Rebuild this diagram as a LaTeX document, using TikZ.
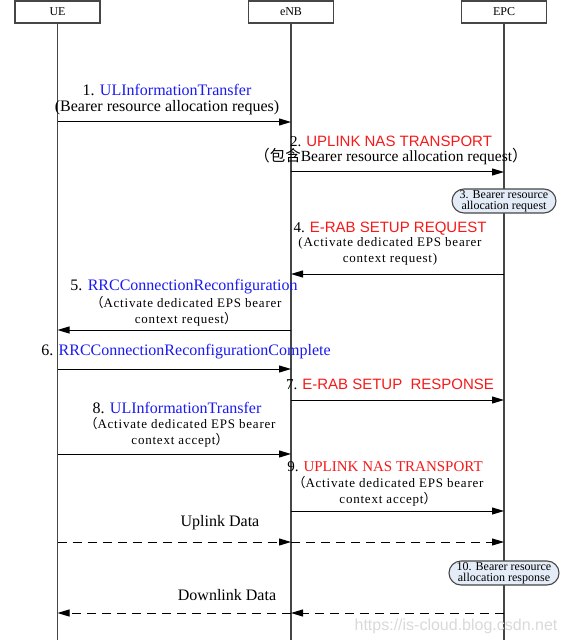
\documentclass[tikz,border=0pt]{standalone}
\usepackage{fontspec}
\setmainfont{Liberation Serif}
\newfontfamily\cjkfont{Noto Sans CJK SC}
\newfontfamily\arialfont{Liberation Sans}
\newfontfamily\spacedfont[LetterSpace=6]{Liberation Serif}
\usetikzlibrary{arrows.meta}
\usetikzlibrary{shapes.misc}
\definecolor{msgblue}{RGB}{25,25,240}
\definecolor{msgred}{RGB}{245,25,25}
\definecolor{notefill}{RGB}{228,236,247}
\definecolor{lifegray}{RGB}{70,70,70}

\begin{document}
\begin{tikzpicture}[x=1pt, y=-1pt,
		entity/.style={
			draw=lifegray,
			line width=1.2pt,
			minimum width=85pt,
			minimum height=22pt,
			inner sep=0pt,
			font=\fontsize{12}{14}\selectfont
		},
		lifeline/.style={draw=lifegray, line width=1.4pt},
		msg/.style={draw, line width=1pt, -{Triangle[length=12pt, width=7pt]}},
		datamsg/.style={msg, dash pattern=on 9pt off 6pt},
		head/.style={inner sep=0pt, font=\fontsize{16}{19}\selectfont},
		redhead/.style={inner sep=0pt, font=\fontsize{15}{18}\selectfont},
		body/.style={inner sep=0pt, align=center, font=\spacedfont\fontsize{13}{16}\selectfont},
		note/.style={
			draw=lifegray,
			fill=notefill,
			rounded rectangle,
			line width=1.1pt,
			minimum width=102pt,
			minimum height=24pt,
			inner xsep=1pt,
			inner ysep=0pt,
			align=center,
			font=\fontsize{12}{11}\selectfont
		}]
		\useasboundingbox (0,0) rectangle (568,644);
		
		\node[entity] (ue) at (57.5,12) {UE};
		\node[entity] (enb) at (291,12) {eNB};
		\node[entity] (epc) at (504,12) {EPC};
		\coordinate (bottom) at (0,640);
		\draw[lifeline] (ue.south) -- (ue.south |- bottom);
		\draw[lifeline] (enb.south) -- (enb.south |- bottom);
		\draw[lifeline] (epc.south) -- (epc.south |- bottom);
		
		\foreach \n/\y in {1/122, 2/172, 4/274, 5/330, 6/369, 7/400, 8/454, 9/511, 10/542, 11/613}
			\coordinate (row\n) at (0,\y);
		
		\node[head] (h1) at (167,90) {1. \textcolor{msgblue}{ULInformationTransfer}};
		\node[head] (b1) at (167,107.5) {(Bearer resource allocation reques)};
		\draw[msg] (ue |- row1) -- (enb |- row1);
		
		\node[redhead] (h2) at (391,141) {2. {\arialfont\color{msgred}UPLINK NAS TRANSPORT}};
		\node[head, font=\fontsize{15.5}{18}\selectfont] (b2) at (391,157) {{\cjkfont （包含}Bearer resource allocation request{\cjkfont ）}};
		\draw[msg] (enb |- row2) -- (epc |- row2);
		
		\node[note] (n3) at (504,201) {3. Bearer resource\\allocation request};
		
		\node[redhead] (h4) at (390,229) {4. {\arialfont\color{msgred}E-RAB SETUP REQUEST}};
		\node[body] (b4) at (390,251.5) {(Activate dedicated EPS bearer\\context request)};
		\draw[msg] (epc |- row4) -- (enb |- row4);
		
		\node[head] (h5) at (184,287) {5. \textcolor{msgblue}{RRCConnectionReconfiguration}};
		\node[body] (b5) at (186,311) {{\cjkfont （}Activate dedicated EPS bearer\\context request{\cjkfont ）}};
		\draw[msg] (enb |- row5) -- (ue |- row5);
		
		\node[head] (h6) at (186,352) {6. \textcolor{msgblue}{RRCConnectionReconfigurationComplete}};
		\draw[msg] (ue |- row6) -- (enb |- row6);
		
		\node[redhead] (h7) at (390,384) {7. {\arialfont\color{msgred}E-RAB SETUP~ RESPONSE}};
		\draw[msg] (enb |- row7) -- (epc |- row7);
		
		\node[head] (h8) at (177,408) {8. \textcolor{msgblue}{ULInformationTransfer}};
		\node[body] (b8) at (180,432) {{\cjkfont （}Activate dedicated EPS bearer\\context accept{\cjkfont ）}};
		\draw[msg] (ue |- row8) -- (enb |- row8);
		
		\node[redhead] (h9) at (385,467) {9. \textcolor{msgred}{UPLINK NAS TRANSPORT}};
		\node[body] (b9) at (388,491) {{\cjkfont （}Activate dedicated EPS bearer\\context accept{\cjkfont ）}};
		\draw[msg] (enb |- row9) -- (epc |- row9);
		
		\node[head] (up) at (220,523) {Uplink Data};
		\draw[datamsg] (ue |- row10) -- (enb |- row10);
		\draw[datamsg] (enb |- row10) -- (epc |- row10);
		
		\node[note, minimum width=109pt] (n10) at (504,573) {10. Bearer resource\\allocation response};
		
		\node[head] (down) at (227,595) {Downlink Data};
		\draw[datamsg] (epc |- row11) -- (enb |- row11);
		\draw[datamsg] (enb |- row11) -- (ue |- row11);
		
		\node[text=gray!30, font=\arialfont\fontsize{16}{18}\selectfont] (mark) at (456,626) {https://is-cloud.blog.csdn.net};
	\end{tikzpicture}
\end{document}
